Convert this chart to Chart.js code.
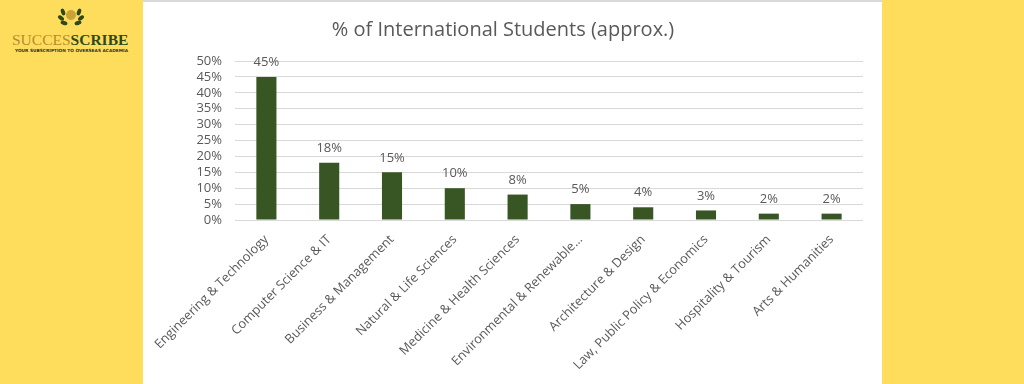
<!DOCTYPE html>
<html><head><meta charset="utf-8">
<script src="https://cdn.jsdelivr.net/npm/chart.js@4"></script>
<style>
html,body{margin:0;padding:0;width:1024px;height:384px;overflow:hidden;background:#FEDD5D;}
#panel{position:absolute;left:143px;top:0;width:739px;height:384px;background:#fff;border-top:2px solid #d9d9d9;box-sizing:border-box;}
#wrap{position:absolute;left:143px;top:0;width:739px;height:384px;}
#logo{position:absolute;left:0;top:0;width:143px;height:60px;}
.brand{position:absolute;left:12px;top:31px;font-family:"Liberation Serif","DejaVu Serif",serif;font-size:15.5px;white-space:nowrap;}
.brand .a{color:#B98A2D;}
.brand .b{color:#2E4A1B;font-weight:bold;}
.tag{position:absolute;left:15px;top:48px;font-family:"DejaVu Sans",sans-serif;font-size:4.3px;color:#333;white-space:nowrap;font-weight:bold;}
</style></head>
<body>
<div id="logo">
<svg style="position:absolute;left:55px;top:6px" width="32" height="24" viewBox="0 0 32 24">
<circle cx="16" cy="9" r="5" fill="#C9A23A"/>
<g fill="#2E4A1B">
<ellipse cx="8" cy="6" rx="2" ry="3.5" transform="rotate(-20 8 6)"/>
<ellipse cx="6" cy="12" rx="2" ry="3.5" transform="rotate(-50 6 12)"/>
<ellipse cx="9" cy="17" rx="2" ry="3.5" transform="rotate(-75 9 17)"/>
<ellipse cx="24" cy="6" rx="2" ry="3.5" transform="rotate(20 24 6)"/>
<ellipse cx="26" cy="12" rx="2" ry="3.5" transform="rotate(50 26 12)"/>
<ellipse cx="23" cy="17" rx="2" ry="3.5" transform="rotate(75 23 17)"/>
</g>
</svg>
<div class="brand"><span class="a">SUCCES</span><span class="b">SCRIBE</span></div>
<div class="tag">YOUR SUBSCRIPTION TO OVERSEAS ACADEMIA</div>
</div>
<div id="panel"></div>
<div id="wrap"><canvas id="c" width="739" height="384"></canvas></div>
<script>
const categories = ["Engineering & Technology","Computer Science & IT","Business & Management","Natural & Life Sciences","Medicine & Health Sciences","Environmental & Renewable…","Architecture & Design","Law, Public Policy & Economics","Hospitality & Tourism","Arts & Humanities"];
const values = [45,18,15,10,8,5,4,3,2,2];
const yTicks = [0,5,10,15,20,25,30,35,40,45,50];
const chartTitle = "% of International Students (approx.)";

const FONT = "'Open Sans', 'Noto Sans', sans-serif";
const GREY = "#595959";

const valueLabels = {
  id:'valueLabels',
  afterDatasetsDraw(chart){
    const ctx = chart.ctx;
    const meta = chart.getDatasetMeta(0);
    ctx.save();
    ctx.font = "13px " + FONT;
    ctx.fillStyle = GREY;
    ctx.textAlign = 'center';
    ctx.textBaseline = 'bottom';
    meta.data.forEach((bar,i)=>{
      ctx.fillText(values[i] + '%', bar.x, bar.y - 8);
    });
    ctx.restore();
  }
};

new Chart(document.getElementById('c'), {
  type:'bar',
  data:{labels:categories, datasets:[{data:values, backgroundColor:'#375623', borderWidth:0, categoryPercentage:1, barPercentage:0.32}]},
  options:{
    responsive:false, animation:false,
    layout:{padding:{left:0,right:19,top:0,bottom:0}},
    plugins:{
      legend:{display:false}, tooltip:{enabled:false},
      title:{display:true, text:chartTitle, color:GREY, font:{family:FONT, size:20, weight:'normal'}, padding:{top:18,bottom:19}}
    },
    scales:{
      y:{
        min:0, max:50,
        afterBuildTicks(axis){ axis.ticks = yTicks.map(v=>({value:v})); },
        afterFit(axis){ axis.width = 92; },
        border:{display:false},
        grid:{color:'#d9d9d9', drawTicks:false, lineWidth:1},
        ticks:{color:GREY, font:{family:FONT, size:13}, padding:13, autoSkip:false, callback:v=>v+'%'}
      },
      x:{
        afterFit(axis){ axis.height = 164; },
        border:{display:false},
        grid:{display:false},
        ticks:{color:GREY, font:{family:FONT, size:12.8}, minRotation:45, maxRotation:45, autoSkip:false, padding:4}
      }
    }
  },
  plugins:[valueLabels]
});
</script>
</body></html>
